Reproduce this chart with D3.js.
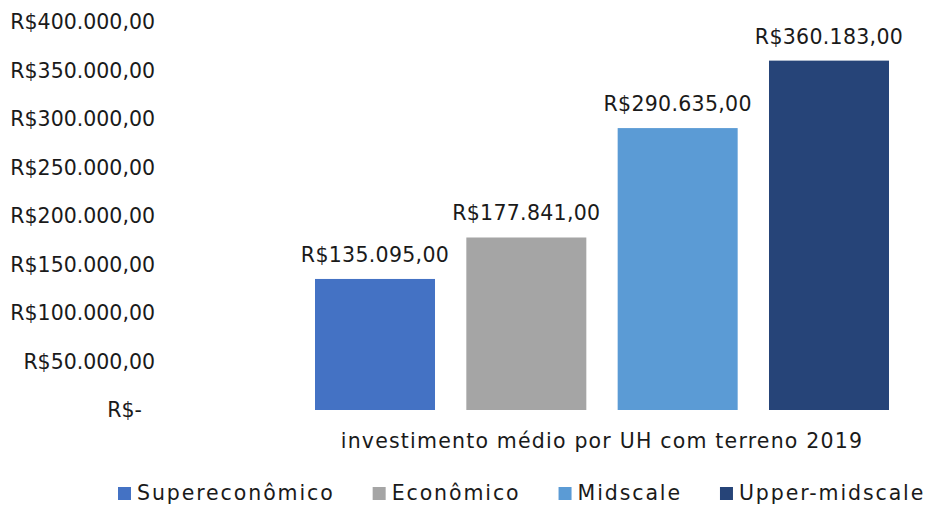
<!DOCTYPE html>
<html>
<head>
<meta charset="utf-8">
<script src="https://cdn.jsdelivr.net/npm/d3@7"></script>
<style>
  body { margin: 0; background: #fff; }
  text { font-family: "DejaVu Sans", sans-serif; fill: #1a1a1a; }
</style>
</head>
<body>
<div id="chart"></div>
<script>
const categories = ["Supereconômico", "Econômico", "Midscale", "Upper-midscale"];
const values = [135095, 177841, 290635, 360183];
const colors = ["#4472C4", "#A5A5A5", "#5B9BD5", "#264478"];
const yTicks = [0, 50000, 100000, 150000, 200000, 250000, 300000, 350000, 400000];
const axisTitle = "investimento médio por UH com terreno 2019";

const width = 926;
const height = 507;
const fontSize = 20.5;

const svg = d3.select("#chart")
  .append("svg")
  .attr("width", width)
  .attr("height", height);

const x = d3.scaleBand()
  .domain(categories)
  .range([315, 889])
  .paddingInner(0.207)
  .paddingOuter(0);

const y = d3.scaleLinear()
  .domain([0, 400000])
  .range([410, 22]);

const color = d3.scaleOrdinal().domain(categories).range(colors);

// formato contábil brasileiro
const brl = v => v === 0
  ? "R$-\u00a0\u00a0"
  : "R$" + d3.format(",.2f")(v).replace(/,/g, "#").replace(".", ",").replace(/#/g, ".");

// eixo y (só rótulos)
svg.append("g")
  .selectAll("text")
  .data(yTicks)
  .join("text")
  .attr("x", 155)
  .attr("y", d => y(d))
  .attr("dy", "0.35em")
  .attr("text-anchor", "end")
  .style("font-size", fontSize + "px")
  .text(brl);

// barras
svg.append("g")
  .selectAll("rect")
  .data(values)
  .join("rect")
  .attr("x", (d, i) => x(categories[i]))
  .attr("y", d => y(d))
  .attr("width", x.bandwidth())
  .attr("height", d => y(0) - y(d))
  .attr("fill", (d, i) => color(categories[i]));

// rótulos de dados
svg.append("g")
  .selectAll("text")
  .data(values)
  .join("text")
  .attr("x", (d, i) => x(categories[i]) + x.bandwidth() / 2)
  .attr("y", d => y(d) - 17)
  .attr("text-anchor", "middle")
  .style("font-size", fontSize + "px")
  .style("letter-spacing", "0.3px")
  .text(brl);

// título do eixo x
svg.append("text")
  .attr("x", (x.range()[0] + x.range()[1]) / 2)
  .attr("y", 448)
  .attr("text-anchor", "middle")
  .style("font-size", fontSize + "px")
  .style("letter-spacing", "1.2px")
  .text(axisTitle);

// legenda
const legend = svg.append("g");
let lx = 118;
categories.forEach((c, i) => {
  const item = legend.append("g").attr("transform", `translate(${lx}, 493)`);
  item.append("rect")
    .attr("x", 0)
    .attr("y", -6)
    .attr("width", 13)
    .attr("height", 13)
    .attr("fill", color(c));
  const t = item.append("text")
    .attr("x", 19)
    .attr("y", 0)
    .attr("dy", "0.35em")
    .style("font-size", fontSize + "px")
    .style("letter-spacing", "1.9px")
    .text(c);
  lx += 19 + t.node().getComputedTextLength() + 38;
});
</script>
</body>
</html>
